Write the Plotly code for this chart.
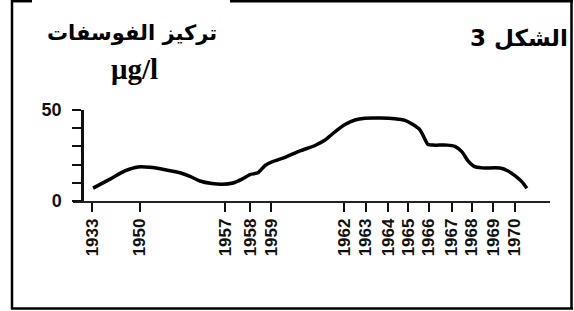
import plotly.graph_objects as go

# ---- data ----
tick_years = ["1933", "1950", "1957", "1958", "1959", "1962", "1963", "1964",
              "1965", "1966", "1967", "1968", "1969", "1970"]
# position of each year label on the chart's (non-linear) time axis
tick_pos = [0.0, 2.23, 6.19, 7.35, 8.33, 11.72, 12.74, 13.77, 14.70, 15.67,
            16.74, 17.67, 18.65, 19.67]

curve_pos = [0.05, 0.84, 1.53, 2.14, 2.70, 3.40, 4.09, 4.56, 5.02, 5.58, 6.05,
             6.56, 6.98, 7.35, 7.72, 8.05, 8.37, 8.98, 9.67, 10.37, 10.84,
             11.30, 11.77, 12.23, 12.70, 13.40, 14.09, 14.56, 14.93, 15.26,
             15.44, 15.63, 15.95, 16.51, 16.88, 17.21, 17.49, 17.77, 18.14,
             18.98, 19.35, 19.67, 20.00, 20.23]
phosphate = [7.1, 12.0, 16.5, 18.7, 18.5, 17.2, 15.5, 13.5, 11.0, 9.6, 9.2,
             9.9, 12.0, 14.5, 15.5, 19.5, 21.5, 24.0, 27.5, 30.5, 33.5,
             38.0, 42.0, 44.5, 45.5, 45.6, 45.2, 44.3, 42.0, 39.0,
             35.0, 31.0, 30.7, 30.7, 30.0, 27.0, 22.0, 19.0, 18.2,
             18.1, 16.5, 14.0, 10.5, 7.0]

y_ticks = [0, 10, 20, 30, 40, 50]
y_ticktext = ["0", "", "", "", "", "50"]

title_right = "الشكل 3"
title_left = "تركيز الفوسفات"
unit_text = "μg/l"

# ---- layout geometry ----
W, H = 574, 311
L, R, T, B = 73, 24, 110, 110
PW, PH = W - L - R, H - T - B


def xp(px):
    return (px - L) / PW


def yp(py):
    return (H - B - py) / PH


fig = go.Figure()
fig.add_trace(go.Scatter(
    x=curve_pos, y=phosphate, mode="lines",
    line=dict(color="black", width=3.5, shape="spline", smoothing=0.6),
    hoverinfo="skip", showlegend=False,
))

ax_font = dict(family="Liberation Sans, Arial, sans-serif", size=16, color="#111")

fig.update_layout(
    width=W, height=H,
    margin=dict(l=L, r=R, t=T, b=B, pad=0),
    paper_bgcolor="white", plot_bgcolor="white",
    showlegend=False,
    xaxis=dict(
        range=[(L - 92) / 21.5, (550 - 92) / 21.5],
        showline=True, linecolor="#222", linewidth=1.5,
        ticks="outside", ticklen=9, tickwidth=2, tickcolor="#111",
        tickvals=tick_pos, ticktext=tick_years, tickangle=-90,
        tickfont=dict(ax_font, size=17, weight="bold"),
        showgrid=False, zeroline=False, fixedrange=True,
    ),
    yaxis=dict(
        range=[0, 50], anchor="free", position=xp(82),
        showline=True, linecolor="#111", linewidth=2.5,
        ticks="outside", ticklen=9, tickwidth=2, tickcolor="#111",
        tickvals=y_ticks, ticktext=y_ticktext, ticklabelstandoff=7,
        tickfont=dict(ax_font, size=18, weight="bold"),
        showgrid=False, zeroline=False, fixedrange=True,
    ),
)

# frame
frame = dict(type="line", xref="paper", yref="paper",
             line=dict(color="black", width=2.5))
fig.add_shape(frame, x0=xp(12), x1=xp(12), y0=yp(0), y1=yp(309))
fig.add_shape(frame, x0=xp(571.5), x1=xp(571.5), y0=yp(0), y1=yp(309))
fig.add_shape(frame, x0=xp(11), x1=xp(32), y0=yp(1.2), y1=yp(1.2))
fig.add_shape(frame, x0=xp(230), x1=xp(573), y0=yp(1.2), y1=yp(1.2))
fig.add_shape(frame, x0=xp(11), x1=xp(573), y0=yp(308.5), y1=yp(308.5))

arab_font = dict(family="DejaVu Sans, Arial, sans-serif", color="black", weight="bold")
fig.add_annotation(text=title_right, xref="paper", yref="paper",
                   x=xp(519), y=yp(38), showarrow=False,
                   font=dict(arab_font, size=23), xanchor="center", yanchor="middle")
fig.add_annotation(text=title_left, xref="paper", yref="paper",
                   x=xp(132), y=yp(33), showarrow=False,
                   font=dict(arab_font, size=21), xanchor="center", yanchor="middle")
fig.add_annotation(text=unit_text, xref="paper", yref="paper",
                   x=xp(134), y=yp(69), showarrow=False,
                   font=dict(family="Liberation Serif, Times New Roman, serif",
                             size=29, color="black", weight="bold"),
                   xanchor="center", yanchor="middle")

fig.write_html("out.html", config={"displayModeBar": False},
               post_script="document.body.style.margin='0';")
